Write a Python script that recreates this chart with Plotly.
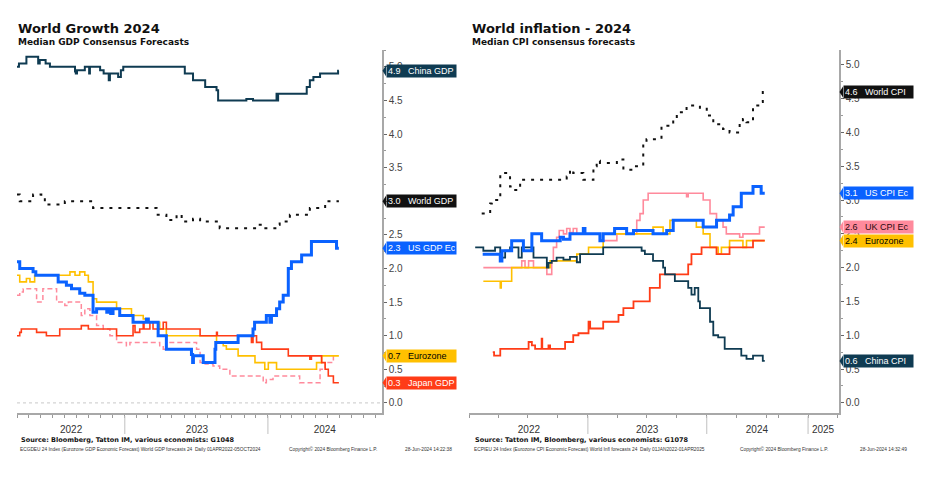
import plotly.graph_objects as go
from plotly.subplots import make_subplots

W, H = 951, 483

# ---------------- left panel: World Growth 2024, median GDP forecasts (%) ----------------
CHINA_GDP_DATES = ["2022-04-01", "2022-04-06", "2022-04-25", "2022-05-25", "2022-05-29", "2022-06-13", "2022-06-24",
                   "2022-08-27", "2022-08-29", "2022-09-01", "2022-09-21", "2022-10-02", "2022-10-04", "2022-10-30",
                   "2022-11-08", "2022-11-21", "2022-11-24", "2022-12-15", "2022-12-22", "2022-12-28",
                   "2023-06-03", "2023-06-24", "2023-07-25", "2023-08-23", "2023-08-27", "2023-11-07", "2023-11-24",
                   "2024-01-23", "2024-01-25", "2024-01-27", "2024-04-09", "2024-04-17", "2024-04-26", "2024-05-13",
                   "2024-06-28", "2024-06-30"]
CHINA_GDP = [5.0, 5.05, 5.15, 5.05, 5.1, 5.05, 5.0,
             4.93, 4.9, 4.95, 5.0, 4.9, 5.0, 4.95,
             4.9, 4.8, 4.9, 4.85, 4.95, 5.0,
             4.9, 4.8, 4.7, 4.65, 4.5, 4.52, 4.5,
             4.6, 4.5, 4.6, 4.7, 4.8, 4.85, 4.9,
             4.94, 4.94]

WORLD_GDP_DATES = ["2022-04-01", "2022-04-08", "2022-05-12", "2022-06-02", "2022-06-11", "2022-08-01", "2022-10-12",
                   "2023-03-23", "2023-04-17", "2023-05-13", "2023-05-26", "2023-06-24", "2023-07-12", "2023-08-31",
                   "2023-12-03", "2023-12-20", "2024-01-23", "2024-01-31", "2024-02-26", "2024-04-17", "2024-05-26",
                   "2024-06-30"]
WORLD_GDP = [3.1, 3.0, 3.1, 3.05, 2.95, 3.0, 2.9,
             2.8, 2.72, 2.8, 2.7, 2.74, 2.7, 2.6,
             2.65, 2.6, 2.65, 2.7, 2.8, 2.9, 3.0,
             3.0]

US_GDP_DATES = ["2022-04-01", "2022-04-08", "2022-05-12", "2022-05-19", "2022-07-15", "2022-08-05", "2022-08-18",
                "2022-09-08", "2022-09-21", "2022-10-12", "2022-10-21", "2022-11-16", "2022-11-22", "2022-11-26",
                "2022-12-02", "2022-12-19",
                "2023-01-22", "2023-02-25", "2023-03-02", "2023-03-27", "2023-04-17", "2023-06-20", "2023-06-23",
                "2023-06-25", "2023-07-20", "2023-08-19", "2023-08-21", "2023-10-17", "2023-11-24", "2023-11-28",
                "2023-12-28",
                "2024-01-06", "2024-01-10", "2024-01-23", "2024-01-31", "2024-02-09", "2024-02-22", "2024-03-01",
                "2024-03-27", "2024-04-21", "2024-06-24", "2024-06-30"]
US_GDP = [2.1, 2.0, 1.95, 1.9, 1.8, 1.75, 1.7,
          1.63, 1.6, 1.35, 1.4, 1.35, 1.4, 1.33,
          1.4, 1.3,
          1.2, 1.25, 1.2, 1.0, 0.8, 0.72, 0.6,
          0.7, 0.6, 0.8, 0.9, 1.0, 1.1, 1.2,
          1.3,
          1.2, 1.3, 1.4, 1.5, 1.6, 2.0, 2.1,
          2.2, 2.4, 2.3, 2.3]

EZ_GDP_DATES = ["2022-04-01", "2022-04-08", "2022-04-25", "2022-05-04", "2022-05-16", "2022-08-14", "2022-08-27",
                "2022-09-08", "2022-09-21", "2022-09-30", "2022-10-12", "2022-10-21", "2022-12-11",
                "2023-01-18", "2023-02-17", "2023-02-25", "2023-03-31", "2023-04-17", "2023-08-23", "2023-09-09",
                "2023-09-17", "2023-10-17", "2023-11-29", "2023-12-24",
                "2024-01-02", "2024-01-23", "2024-05-04", "2024-05-17", "2024-06-30"]
EZ_GDP = [1.9, 1.8, 1.85, 1.8, 1.9, 1.95, 1.9,
          1.95, 1.9, 1.8, 1.55, 1.5, 1.4,
          1.3, 1.25, 1.2, 1.1, 1.0, 0.9, 0.85,
          0.8, 0.7, 0.6, 0.5,
          0.6, 0.5, 0.6, 0.7, 0.7]

JAPAN_GDP_DATES = ["2022-04-01", "2022-04-08", "2022-04-12", "2022-05-21", "2022-06-15", "2022-07-19", "2022-09-12",
                   "2022-09-30", "2022-12-11",
                   "2023-01-22", "2023-01-27", "2023-02-08", "2023-02-17", "2023-02-19", "2023-03-06", "2023-03-14",
                   "2023-04-09", "2023-04-17", "2023-07-12", "2023-08-23", "2023-08-25", "2023-11-20", "2023-11-24",
                   "2023-12-03", "2023-12-16",
                   "2024-02-22", "2024-04-17", "2024-04-21", "2024-05-17", "2024-05-26", "2024-06-03", "2024-06-16",
                   "2024-06-30"]
JAPAN_GDP = [1.0, 1.05, 1.1, 1.05, 1.0, 1.1, 1.15,
             1.1, 1.0,
             1.15, 1.05, 1.1, 1.2, 1.1, 1.2, 1.1,
             1.2, 1.1, 1.0, 1.05, 1.0, 0.9, 1.0,
             0.9, 0.8,
             0.7, 0.65, 0.7, 0.6, 0.5, 0.4, 0.3,
             0.3]

UK_GDP_DATES = ["2022-04-01", "2022-04-08", "2022-04-17", "2022-05-21", "2022-06-06", "2022-07-11", "2022-08-01",
                "2022-08-10", "2022-09-12", "2022-09-21", "2022-10-04", "2022-10-21", "2022-11-07", "2022-11-24",
                "2022-12-11",
                "2023-01-05", "2023-01-14", "2023-03-31", "2023-04-09", "2023-04-17", "2023-07-03", "2023-07-12",
                "2023-07-25", "2023-08-14", "2023-08-31", "2023-09-26", "2023-12-20", "2023-12-28",
                "2024-01-14", "2024-03-22", "2024-05-13", "2024-05-26", "2024-06-16", "2024-06-24"]
UK_GDP = [1.6, 1.65, 1.7, 1.5, 1.7, 1.5, 1.45,
          1.5, 1.3, 1.4, 1.3, 1.15, 1.1, 1.0,
          0.9,
          0.85, 0.9, 0.85, 0.8, 0.9, 0.8, 0.6,
          0.58, 0.55, 0.5, 0.4, 0.3, 0.35,
          0.4, 0.3, 0.5, 0.6, 0.7, 0.7]

# ---------------- right panel: World inflation 2024, median CPI forecasts (%) ----------------
WORLD_CPI_DATES = ["2022-02-09", "2022-03-07", "2022-03-12", "2022-04-07", "2022-05-07", "2022-05-18", "2022-06-07",
                   "2022-10-28", "2022-11-07", "2022-11-17", "2022-12-18",
                   "2023-01-18", "2023-01-28", "2023-02-07", "2023-03-31", "2023-04-20", "2023-05-21", "2023-06-20",
                   "2023-06-30", "2023-08-15", "2023-09-20", "2023-10-01", "2023-10-31", "2023-12-11",
                   "2024-01-01", "2024-01-21", "2024-02-20", "2024-03-11", "2024-04-11", "2024-04-21", "2024-05-02",
                   "2024-05-22", "2024-06-16", "2024-06-21", "2024-06-27"]
WORLD_CPI = [2.8, 2.95, 3.0, 3.4, 3.2, 3.15, 3.3,
             3.35, 3.45, 3.4, 3.3,
             3.5, 3.58, 3.55, 3.6, 3.45, 3.5, 3.85,
             3.9, 4.1, 4.2, 4.3, 4.4, 4.35,
             4.25, 4.12, 4.05, 4.0, 4.15, 4.2, 4.15,
             4.4, 4.45, 4.6, 4.6]

US_CPI_DATES = ["2022-02-12", "2022-04-07", "2022-04-12", "2022-05-12", "2022-06-17", "2022-07-13", "2022-08-12",
                "2022-10-08", "2022-10-18", "2022-11-07", "2022-12-18", "2022-12-23",
                "2023-02-07", "2023-02-17", "2023-03-24", "2023-04-30", "2023-05-21", "2023-07-20", "2023-08-31",
                "2023-09-20", "2023-12-21",
                "2024-01-31", "2024-03-11", "2024-03-22", "2024-04-16", "2024-05-22", "2024-06-16", "2024-06-27"]
US_CPI = [2.2, 2.1, 2.25, 2.4, 2.25, 2.5, 2.4,
          2.45, 2.42, 2.5, 2.58, 2.5,
          2.4, 2.5, 2.58, 2.5, 2.55, 2.5, 2.55,
          2.7, 2.6,
          2.7, 2.78, 2.9, 3.1, 3.2, 3.1, 3.1]

UK_CPI_DATES = ["2022-02-14", "2022-06-12", "2022-06-22", "2022-07-03", "2022-07-18", "2022-08-28", "2022-09-12",
                "2022-09-17", "2022-09-27", "2022-10-05", "2022-10-18", "2022-10-28", "2022-11-07", "2022-11-17",
                "2022-11-28",
                "2023-02-07", "2023-03-31", "2023-05-31", "2023-06-10", "2023-06-20", "2023-07-05", "2023-10-31",
                "2023-11-05", "2023-12-21",
                "2024-01-11", "2024-01-31", "2024-02-20", "2024-03-01", "2024-04-11", "2024-04-21", "2024-06-11",
                "2024-06-27"]
UK_CPI = [2.0, 2.1, 2.0, 2.1, 2.0, 1.9, 2.1,
          2.3, 2.45, 2.55, 2.5, 2.58, 2.52, 2.58,
          2.5,
          2.4, 2.5, 2.7, 2.8, 3.0, 3.1, 3.05,
          3.1, 3.0,
          2.8, 2.7, 2.6, 2.5, 2.45, 2.5, 2.6,
          2.6]

EZ_CPI_DATES = ["2022-02-14", "2022-04-07", "2022-04-10", "2022-05-12", "2022-09-07", "2022-11-28",
                "2023-01-03", "2023-02-17", "2023-07-20", "2023-08-20", "2023-09-10", "2023-11-30", "2023-12-21",
                "2024-01-11", "2024-02-05", "2024-02-15", "2024-03-11", "2024-04-21", "2024-05-02", "2024-06-27"]
EZ_CPI = [1.8, 1.7, 1.8, 2.0, 2.1, 2.2,
          2.3, 2.5, 2.6, 2.5, 2.7, 2.6, 2.5,
          2.3, 2.2, 2.3, 2.4, 2.3, 2.4, 2.4]

JAPAN_CPI_DATES = ["2022-03-15", "2022-03-19", "2022-04-07", "2022-07-03", "2022-07-13", "2022-07-23", "2022-08-12",
                   "2022-08-14", "2022-09-02", "2022-09-07", "2022-10-23", "2022-11-17", "2022-12-03",
                   "2023-01-03", "2023-01-08", "2023-02-17", "2023-04-05", "2023-04-20", "2023-05-21", "2023-07-10",
                   "2023-08-10", "2023-11-05", "2023-11-15", "2023-12-16",
                   "2024-01-31", "2024-03-11", "2024-05-22", "2024-06-27"]
JAPAN_CPI = [0.75, 0.7, 0.8, 0.9, 0.85, 0.8, 0.95,
             0.8, 0.85, 0.8, 0.9, 1.0, 1.03,
             1.2, 1.1, 1.2, 1.3, 1.4, 1.5, 1.7,
             1.9, 2.05, 2.2, 2.3,
             2.2, 2.3, 2.4, 2.4]

CHINA_CPI_DATES = ["2022-01-20", "2022-02-14", "2022-03-22", "2022-04-07", "2022-04-12", "2022-04-22", "2022-05-07",
                   "2022-06-02", "2022-06-12", "2022-07-18", "2022-08-28", "2022-09-02", "2022-09-12", "2022-09-27",
                   "2022-10-18", "2022-11-07", "2022-11-28", "2022-12-08",
                   "2023-02-17", "2023-06-15", "2023-06-25", "2023-07-20", "2023-08-20", "2023-08-26", "2023-09-25",
                   "2023-11-05", "2023-11-15", "2023-11-25", "2023-12-06", "2023-12-11",
                   "2024-01-11", "2024-01-21", "2024-02-05", "2024-02-25", "2024-04-16", "2024-05-02", "2024-05-22",
                   "2024-06-21", "2024-06-27"]
CHINA_CPI = [2.3, 2.25, 2.3, 2.1, 2.15, 2.25, 2.3,
             2.15, 2.3, 2.15, 2.0, 2.07, 2.1, 2.15,
             2.12, 2.16, 2.08, 2.2,
             2.3, 2.25, 2.2, 2.1, 2.0, 1.9, 1.8,
             1.7, 1.6, 1.7, 1.5, 1.4,
             1.2, 1.0, 0.97, 0.8, 0.7, 0.65, 0.7,
             0.62, 0.62]

# x axis labels (centred in the visible part of each year) and year boundaries
GDP_YEAR_TICKS = ["2022-08-17", "2023-07-04", "2024-05-25"]
GDP_YEAR_TEXT = ["2022", "2023", "2024"]
GDP_YEAR_STARTS = ["2023-01-01", "2024-01-01"]
CPI_YEAR_TICKS = ["2022-07-04", "2023-07-02", "2024-06-03", "2025-02-16"]
CPI_YEAR_TEXT = ["2022", "2023", "2024", "2025"]
CPI_YEAR_STARTS = ["2023-01-01", "2024-01-01", "2025-01-01"]

NAVY = "#0f3b52"
BLUE = "#0a62ff"
GOLD = "#ffc000"
RED = "#ff3c17"
PINK = "#ff8a9c"
BLACK = "#111111"
AXIS = "#a8a8a8"
TXT = "#444444"

fig = make_subplots(rows=1, cols=2)


def add_line(col, dates, values, color, width, dash="solid"):
    fig.add_trace(go.Scatter(x=dates, y=values, mode="lines",
                             line=dict(color=color, width=width, dash=dash, shape="hv"),
                             hoverinfo="skip", showlegend=False), row=1, col=col)


# left panel, back to front
add_line(1, UK_GDP_DATES, UK_GDP, PINK, 1.5, "5px,3px")
add_line(1, EZ_GDP_DATES, EZ_GDP, GOLD, 1.6)
add_line(1, JAPAN_GDP_DATES, JAPAN_GDP, RED, 1.6)
add_line(1, US_GDP_DATES, US_GDP, BLUE, 3)
add_line(1, WORLD_GDP_DATES, WORLD_GDP, BLACK, 2, "3px,6px")
add_line(1, CHINA_GDP_DATES, CHINA_GDP, NAVY, 2)

# right panel
add_line(2, UK_CPI_DATES, UK_CPI, PINK, 1.6)
add_line(2, EZ_CPI_DATES, EZ_CPI, GOLD, 1.6)
add_line(2, JAPAN_CPI_DATES, JAPAN_CPI, RED, 1.8)
add_line(2, CHINA_CPI_DATES, CHINA_CPI, NAVY, 1.8)
add_line(2, US_CPI_DATES, US_CPI, BLUE, 3)
add_line(2, WORLD_CPI_DATES, WORLD_CPI, BLACK, 2, "3px,6px")

# geometry (pixels of the 951x483 page)
L_X0, L_X1 = 17, 382
R_X0, R_X1 = 469, 839
Y_TOP, Y_BOT = 50, 413
ydom = [1 - Y_BOT / H, 1 - Y_TOP / H]

common_x = dict(showline=True, linecolor=AXIS, linewidth=1.5, showgrid=False, zeroline=False,
                tickmode="array", ticks="", ticklabelstandoff=6,
                tickfont=dict(family="Liberation Sans", size=10, color="#333333"))
common_y = dict(side="right", showline=True, linecolor=AXIS, linewidth=1.5, showgrid=False, zeroline=False,
                ticks="outside", ticklen=3, tickcolor="#666666", tickwidth=1,
                tick0=0, dtick=0.5, tickformat=".1f",
                minor=dict(ticks="outside", ticklen=2, dtick=0.25, tickcolor="#999999"),
                tickfont=dict(family="Liberation Sans", size=10, color=TXT))

fig.update_layout(
    width=W, height=H, margin=dict(l=0, r=0, t=0, b=0),
    paper_bgcolor="white", plot_bgcolor="white", showlegend=False,
    xaxis=dict(common_x, domain=[L_X0 / W, L_X1 / W], range=["2022-04-01", "2024-10-18"],
               tickvals=GDP_YEAR_TICKS, ticktext=GDP_YEAR_TEXT,
               minor=dict(ticks="outside", ticklen=3, tickmode="linear", tick0="2022-01-01", dtick="M1",
                          tickcolor="#999999")),
    xaxis2=dict(common_x, domain=[R_X0 / W, R_X1 / W], range=["2022-01-01", "2025-04-06"],
                rangebreaks=[dict(bounds=["2024-07-05", "2024-08-29"])],
                tickvals=CPI_YEAR_TICKS, ticktext=CPI_YEAR_TEXT,
                minor=dict(ticks="outside", ticklen=3, tickmode="linear", tick0="2022-01-01", dtick="M3",
                           tickcolor="#999999")),
    yaxis=dict(common_y, domain=ydom, range=[-0.15, 5.25], anchor="x"),
    yaxis2=dict(common_y, domain=ydom, range=[-0.15, 5.22], anchor="x2"),
)

# dotted zero line in the GDP panel
fig.add_shape(type="line", xref="x domain", yref="y", x0=0, x1=1, y0=0, y1=0,
              line=dict(color="#c8c8c8", width=1, dash="dot"))

# year separators below the x axes
for xr, starts in (("x", GDP_YEAR_STARTS), ("x2", CPI_YEAR_STARTS)):
    for d in starts:
        fig.add_shape(type="line", xref=xr, yref="paper", x0=d, x1=d,
                      y0=1 - 434 / H, y1=1 - 416 / H, line=dict(color="#c0c0c0", width=1))

# end-of-line value tags on the right axes
LEFT_TAGS = [("China GDP", CHINA_GDP, NAVY, "white"),
             ("World GDP", WORLD_GDP, BLACK, "white"),
             ("US GDP Ec", US_GDP, BLUE, "white"),
             ("Eurozone", EZ_GDP, GOLD, "black"),
             ("Japan GDP", JAPAN_GDP, RED, "white")]
RIGHT_TAGS = [("World CPI", WORLD_CPI, BLACK, "white"),
              ("US CPI Ec", US_CPI, BLUE, "white"),
              ("UK CPI Ec", UK_CPI, PINK, "#2a0a10"),
              ("Eurozone", EZ_CPI, GOLD, "black"),
              ("China CPI", CHINA_CPI, NAVY, "white")]

for axis_px, yref, tags in ((L_X1, "y", LEFT_TAGS), (R_X1, "y2", RIGHT_TAGS)):
    half = 5.5 / 67.4
    for name, series, bg, fg in tags:
        v = series[-1]
        xt, xb = (axis_px + 0.5) / W, (axis_px + 4) / W
        fig.add_shape(type="path", xref="paper", yref=yref,
                      path=f"M {xt},{v} L {xb},{v + half} L {xb},{v - half} Z",
                      fillcolor=bg, line=dict(width=0))
        fig.add_annotation(xref="paper", yref=yref, x=xb, y=v, xanchor="left", yanchor="middle",
                           text=f"{v:.1f}\u00a0\u00a0\u00a0{name}", showarrow=False, bgcolor=bg,
                           width=67, height=10, align="left", borderpad=1,
                           font=dict(family="Liberation Sans", size=9, color=fg))


# titles, sources and footers
def text(x_px, y_px, s, size, family="DejaVu Sans", color="#111111"):
    fig.add_annotation(xref="paper", yref="paper", x=x_px / W, y=1 - y_px / H, xanchor="left", yanchor="middle",
                       text=s, showarrow=False, font=dict(family=family, size=size, color=color))


text(16, 29, "<b>World Growth 2024</b>", 13)
text(16, 42, "<b>Median GDP Consensus Forecasts</b>", 9)
text(470, 29, "<b>World inflation - 2024</b>", 13)
text(470, 42, "<b>Median CPI consensus forecasts</b>", 9)

text(19, 440, "<b>Source: Bloomberg, Tatton IM, various economists: G1048</b>", 6.5)
text(473, 440, "<b>Source: Tatton IM, Bloomberg, various economists: G1078</b>", 6.5)

FOOT = dict(size=4.8, family="Liberation Sans", color="#333333")
text(18, 449, "ECGDEU 24 Index (Eurozone GDP Economic Forecast) World GDP forecasts 24  Daily 01APR2022-05OCT2024", **FOOT)
text(287, 449, "Copyright\u00a9 2024 Bloomberg Finance L.P.", **FOOT)
text(403, 449, "28-Jun-2024 14:22:38", **FOOT)
text(472, 449, "ECPIEU 24 Index (Eurozone CPI Economic Forecast) World Infl forecasts 24  Daily 01JAN2022-01APR2025", **FOOT)
text(738, 449, "Copyright\u00a9 2024 Bloomberg Finance L.P.", **FOOT)
text(858, 449, "28-Jun-2024 14:32:49", **FOOT)

# the page body has a default 8px margin; drop it so the figure fills the window exactly
fig.write_html("out.html", config={"displayModeBar": False},
               post_script="document.body.style.margin='0';")
